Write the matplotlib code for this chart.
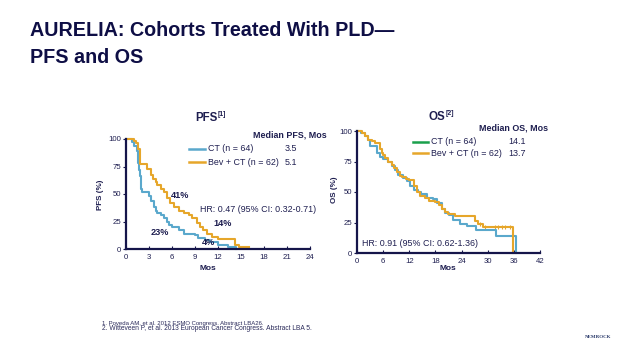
import matplotlib
matplotlib.use("Agg")
import matplotlib.pyplot as plt
from matplotlib.lines import Line2D

plt.rcParams['font.family'] = ['Liberation Sans', 'DejaVu Sans']

# ---------------- data ----------------
pfs_xticks = [0, 3, 6, 9, 12, 15, 18, 21, 24]
pfs_yticks = [0, 25, 50, 75, 100]
os_xticks = [0, 6, 12, 18, 24, 30, 36, 42]
os_yticks = [0, 25, 50, 75, 100]

pfs_ct_t = [0, 0.8, 1.1, 1.4, 1.5, 1.6, 1.7, 1.8, 1.9, 2.0, 2.1, 3.0, 3.3, 3.6, 3.9, 4.1,
            4.5, 5.0, 5.3, 5.6, 6.0, 6.9, 7.6, 9.0, 9.4, 10.3, 11.0, 12.0, 13.3, 14.4]
pfs_ct_s = [100, 97, 94, 89, 84, 78, 72, 66, 60, 55, 52, 48, 44, 38, 35, 33,
            31, 28, 25, 22, 20, 17, 14, 13, 10, 8, 6, 4, 2, 0]

pfs_bev_t = [0, 1.0, 1.3, 1.6, 1.8, 2.8, 3.3, 3.5, 3.9, 4.1, 4.6, 5.0, 5.4, 5.8, 6.3,
             6.9, 7.6, 8.2, 8.6, 9.2, 9.6, 10.1, 10.5, 11.2, 12.0, 14.2, 14.8, 16.0]
pfs_bev_s = [100, 98, 96, 91, 77, 73, 67, 64, 61, 58, 55, 52, 46, 42, 38,
             35, 33, 31, 28, 24, 20, 17, 14, 11, 9, 4, 2, 2]

os_ct_t = [0, 1.0, 1.8, 2.6, 3.0, 4.5, 5.3, 6.0, 7.2, 8.0, 8.7, 9.5, 10.6, 11.4, 12.2,
           13.0, 14.0, 14.8, 16.0, 17.5, 18.3, 19.4, 20.2, 21.0, 22.0, 23.6, 25.2,
           27.4, 32.0, 36.6]
os_ct_s = [100, 98, 95.5, 93, 87.5, 82, 79, 77, 75, 71, 68, 64, 61.5, 59, 55,
           52, 50, 48, 45, 44, 41, 36, 33, 31, 27, 24, 22,
           19, 14, 0]

os_bev_t = [0, 1.1, 1.8, 2.6, 3.4, 4.1, 5.3, 5.7, 6.0, 6.4, 7.2, 8.0, 8.6, 9.1, 9.9,
            10.3, 11.2, 12.0, 13.0, 13.7, 14.5, 15.5, 16.5, 18.0, 18.8, 19.5, 20.2,
            20.9, 22.5, 27.1, 27.8, 29.0, 35.9]
os_bev_s = [100, 98, 96, 93, 91.5, 90, 85, 82, 80.6, 78, 75, 72, 70, 66, 63,
            62, 61, 60, 55, 50, 47, 45, 43, 42, 39, 36, 34,
            32, 30, 26, 24, 21, 0]

os_bev_cens_t = [28.3, 29.4, 31.6, 32.4, 33.2, 33.9, 35.1]
os_bev_cens_s = [24, 21, 21, 21, 21, 21, 21]
os_ct_cens_t = [15.6]
os_ct_cens_s = [47]

pfs_labels = ["41%", "23%", "14%", "4%"]
pfs_label_x = [7.0, 4.4, 12.65, 10.7]
pfs_label_y = [48.8, 15.2, 23.6, 6.1]

legend_labels = ["CT (n = 64)", "Bev + CT (n = 62)"]
pfs_medians = ["3.5", "5.1"]
os_medians = ["14.1", "13.7"]

# ---------------- style ----------------
W, H = 638, 359
NAVY = '#15154a'
TEXT = '#1e1e50'
BLUE = '#5aa8cc'
ORANGE = '#e6a62a'
GREEN = '#1aa04c'
FS = 6.4

fig = plt.figure(figsize=(W / 100, H / 100), dpi=100)
fig.patch.set_facecolor('white')


def fx(px):
    return px / W


def fy(py):
    return 1 - py / H


def style_axes(ax, xticks, yticks):
    for s in ['top', 'right']:
        ax.spines[s].set_visible(False)
    for s in ['left', 'bottom']:
        ax.spines[s].set_color(NAVY)
        ax.spines[s].set_linewidth(1.6)
    ax.set_xticks(xticks)
    ax.set_yticks(yticks)
    ax.set_xlim(xticks[0], xticks[-1])
    ax.set_ylim(0, 100)
    ax.tick_params(axis='x', direction='in', length=2.5, width=0.8, colors=NAVY,
                   labelsize=5.6, labelcolor=TEXT, pad=3.5)
    ax.tick_params(axis='y', direction='out', length=2, width=0.8, colors=NAVY,
                   labelsize=5.6, labelcolor=TEXT, pad=1.5)
    ax.set_facecolor('none')


# ---------------- PFS ----------------
ax1 = fig.add_axes([fx(126), fy(249), fx(310) - fx(126), (249 - 139) / H])
style_axes(ax1, pfs_xticks, pfs_yticks)
ax1.step(pfs_ct_t, pfs_ct_s, where='post', color=BLUE, lw=1.5, clip_on=False)
ax1.step(pfs_bev_t, pfs_bev_s, where='post', color=ORANGE, lw=1.5, clip_on=False)
for lab, x, y in zip(pfs_labels, pfs_label_x, pfs_label_y):
    ax1.text(x, y, lab, ha='center', va='center', fontsize=6.6, fontweight='bold', color=TEXT)
fig.text(fx(200), fy(209), "HR: 0.47 (95% CI: 0.32-0.71)",
         ha='left', va='center', fontsize=FS, color=TEXT)
fig.text(fx(208), fy(268), "Mos", ha='center', va='center', fontsize=6.0,
         fontweight='bold', color=TEXT)
fig.text(fx(100), fy(195), "PFS (%)", ha='center', va='center', rotation=90,
         fontsize=5.8, fontweight='bold', color=TEXT)

# ---------------- OS ----------------
ax2 = fig.add_axes([fx(357), fy(253), fx(540) - fx(357), (253 - 131) / H])
style_axes(ax2, os_xticks, os_yticks)
ax2.step(os_ct_t, os_ct_s, where='post', color=BLUE, lw=1.5, clip_on=False)
ax2.step(os_bev_t, os_bev_s, where='post', color=ORANGE, lw=1.5, clip_on=False)
ax2.scatter(os_bev_cens_t, os_bev_cens_s, marker='|', s=12, color=ORANGE, lw=0.8)
ax2.scatter(os_ct_cens_t, os_ct_cens_s, marker='|', s=12, color=BLUE, lw=0.8)
fig.text(fx(362), fy(243.3), "HR: 0.91 (95% CI: 0.62-1.36)", ha='left', va='center',
         fontsize=FS, color=TEXT)
fig.text(fx(448), fy(269), "Mos", ha='center', va='center', fontsize=6.0,
         fontweight='bold', color=TEXT)
fig.text(fx(335), fy(190), "OS (%)", ha='center', va='center', rotation=90,
         fontsize=5.8, fontweight='bold', color=TEXT)

# ---------------- panel titles ----------------
fig.text(fx(217.5), fy(120.7), "PFS", ha='right', va='baseline', fontsize=8.3,
         fontweight='bold', color=TEXT)
fig.text(fx(218), fy(115.5), "[1]", ha='left', va='baseline', fontsize=5,
         fontweight='bold', color=TEXT)
fig.text(fx(445.5), fy(119.5), "OS", ha='right', va='baseline', fontsize=8.3,
         fontweight='bold', color=TEXT)
fig.text(fx(446), fy(114.5), "[2]", ha='left', va='baseline', fontsize=5,
         fontweight='bold', color=TEXT)

# ---------------- legends ----------------
fig.text(fx(327), fy(137.7), "Median PFS, Mos", ha='right', va='baseline',
         fontsize=FS, fontweight='bold', color=TEXT)
fig.text(fx(548), fy(130.7), "Median OS, Mos", ha='right', va='baseline',
         fontsize=FS, fontweight='bold', color=TEXT)

pfs_rows = [(149, BLUE), (162, ORANGE)]
for (py, col), lab, med in zip(pfs_rows, legend_labels, pfs_medians):
    fig.add_artist(Line2D([fx(189), fx(205)], [fy(py), fy(py)], color=col, lw=1.8))
    fig.text(fx(207.5), fy(py), lab, ha='left', va='center', fontsize=FS, color=TEXT)
    fig.text(fx(285), fy(py), med, ha='left', va='center', fontsize=FS, color=TEXT)

os_rows = [(141.7, GREEN), (153.3, ORANGE)]
for (py, col), lab, med in zip(os_rows, legend_labels, os_medians):
    fig.add_artist(Line2D([fx(413), fx(427.5)], [fy(py), fy(py)], color=col, lw=1.8))
    fig.text(fx(430.5), fy(py), lab, ha='left', va='center', fontsize=FS, color=TEXT)
    fig.text(fx(508), fy(py), med, ha='left', va='center', fontsize=FS, color=TEXT)

# ---------------- title ----------------
fig.text(fx(30), fy(35.5), "AURELIA: Cohorts Treated With PLD\u2014", ha='left',
         va='baseline', fontsize=14.2, fontweight='bold', color='#0e0e45')
fig.text(fx(30), fy(63), "PFS and OS", ha='left', va='baseline', fontsize=14.2,
         fontweight='bold', color='#0e0e45')

# ---------------- footnotes ----------------
fig.text(fx(102.5), fy(323.5), "1. Poveda AM, et al. 2012 ESMO Congress. Abstract LBA26.",
         ha='left', va='center', fontsize=4.3, color='#2a2a5a')
fig.text(fx(102.5), fy(328.8),
         "2. Witteveen P, et al. 2013 European Cancer Congress. Abstract LBA 5.",
         ha='left', va='center', fontsize=4.8, color='#2a2a5a')

# logo text
fig.text(fx(598), fy(337), "NEMROCK", ha='center', va='center', fontsize=3.6,
         fontweight='bold', color='#2a3a6a', family='Liberation Serif')

fig.savefig("out.png", dpi=100, facecolor='white')
